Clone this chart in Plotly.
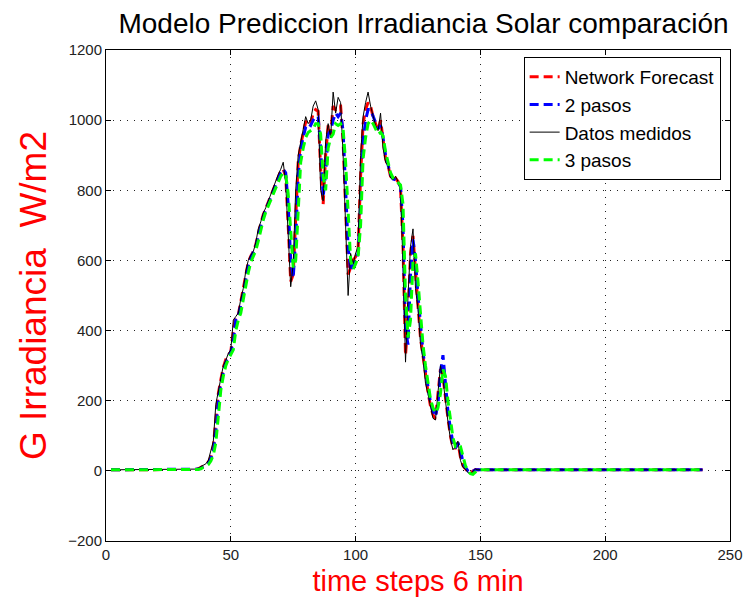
import plotly.graph_objects as go

# time steps
t_start = 2
t_end = 239
steps = list(range(t_start, t_end + 1))

# active part of the day (t = 36 .. 150); flat night values elsewhere
night_before = [3] * 34      # t = 2 .. 35
night_after = [3] * 89       # t = 151 .. 239

measured_day = [5, 8, 12, 15, 20, 30, 55, 85, 190, 230, 270, 300, 315, 335, 345, 430, 440, 450, 490, 520,
                570, 600, 615, 625, 650, 690, 710, 735, 750, 770, 790, 805, 825, 845, 860, 880, 820, 650, 525, 590,
                800, 900, 940, 970, 1010, 990, 1000, 1040, 1055, 1030, 800, 770, 940, 990, 950, 1080, 1020, 1065, 1050, 900,
                720, 500, 620, 590, 620, 640, 900, 1010, 1050, 1080, 1040, 1010, 985, 970, 1020, 920, 880, 870, 835, 830,
                840, 825, 800, 590, 310, 500, 640, 690, 520, 460, 360, 320, 250, 220, 180, 150, 145, 230, 300, 260,
                190, 140, 90, 60, 70, 85, 30, 10, 5, -5, -8, 0, 5, 3, 3]

network_day = [4, 6, 10, 14, 18, 25, 40, 70, 150, 220, 260, 295, 318, 330, 340, 400, 440, 445, 480, 515,
               560, 595, 612, 625, 645, 680, 705, 730, 748, 768, 785, 800, 820, 840, 855, 860, 840, 700, 540, 560,
               740, 880, 930, 960, 995, 1000, 990, 1020, 1030, 1025, 860, 760, 900, 985, 960, 1040, 1030, 1040, 1040, 940,
               760, 560, 580, 600, 610, 630, 840, 990, 1030, 1050, 1040, 1010, 990, 970, 1000, 940, 890, 870, 840, 830,
               835, 825, 805, 640, 330, 430, 620, 670, 560, 470, 380, 325, 265, 225, 185, 160, 148, 210, 290, 270,
               200, 150, 100, 65, 65, 80, 40, 15, 6, -2, -5, 0, 4, 3, 3]

pasos2_day = [4, 5, 8, 12, 16, 22, 35, 55, 110, 200, 250, 285, 310, 325, 338, 370, 430, 442, 470, 505,
              545, 585, 608, 622, 640, 670, 700, 725, 745, 762, 780, 798, 815, 835, 850, 860, 850, 760, 600, 550,
              660, 840, 920, 950, 980, 990, 985, 1000, 1010, 1010, 920, 780, 850, 960, 970, 1000, 1020, 1010, 1020, 970,
              820, 640, 570, 590, 600, 620, 760, 940, 1000, 1030, 1030, 1010, 990, 975, 985, 950, 900, 875, 845, 832,
              830, 825, 810, 700, 400, 360, 560, 660, 600, 500, 410, 340, 285, 235, 195, 170, 155, 190, 280, 330,
              240, 170, 120, 80, 65, 80, 60, 25, 10, 0, -5, -2, 3, 3, 3]

pasos3_day = [3, 4, 6, 10, 14, 18, 28, 45, 80, 160, 230, 270, 300, 318, 330, 345, 400, 430, 450, 490,
              525, 565, 595, 612, 628, 655, 690, 715, 738, 755, 775, 792, 808, 828, 840, 850, 845, 790, 680, 580,
              600, 760, 880, 920, 950, 965, 970, 975, 990, 990, 960, 840, 800, 920, 950, 960, 990, 985, 990, 975,
              880, 720, 600, 575, 590, 610, 700, 890, 950, 990, 1000, 990, 975, 960, 965, 955, 910, 880, 850, 835,
              828, 822, 815, 760, 500, 380, 430, 600, 620, 540, 440, 360, 300, 250, 205, 180, 165, 180, 220, 290,
              270, 200, 140, 95, 70, 75, 70, 40, 15, 0, -8, -10, -2, 3, 3]

measured = night_before + measured_day + night_after
network = night_before + network_day + night_after
pasos2 = night_before + pasos2_day + night_after
pasos3 = night_before + pasos3_day + night_after

x_ticks = [0, 50, 100, 150, 200, 250]
y_ticks = [-200, 0, 200, 400, 600, 800, 1000, 1200]

fig = go.Figure()
fig.add_trace(go.Scatter(x=steps, y=network, mode="lines", name="Network Forecast",
                         legendgroup="a", line=dict(color="#ff0000", width=3, dash="9px,5px")))
fig.add_trace(go.Scatter(x=steps, y=pasos2, mode="lines", name="2 pasos",
                         legendgroup="b", line=dict(color="#0000ff", width=3, dash="9px,5px")))
fig.add_trace(go.Scatter(x=steps, y=measured, mode="lines", name="Datos medidos",
                         legendgroup="c", line=dict(color="#000000", width=1)))
fig.add_trace(go.Scatter(x=steps, y=pasos3, mode="lines", name="3 pasos",
                         legendgroup="d", line=dict(color="#00ff00", width=3, dash="9px,5px")))

axis_common = dict(
    showline=True, linecolor="black", linewidth=1, mirror="ticks",
    ticks="inside", ticklen=5, tickcolor="black",
    showgrid=True, gridcolor="#222222", gridwidth=1, griddash="1px,6px",
    zeroline=False,
    tickfont=dict(family="Liberation Sans", size=15, color="#222222"),
)

fig.update_layout(
    width=755, height=606,
    margin=dict(l=106, r=14, t=50, b=65),
    paper_bgcolor="white", plot_bgcolor="white",
    title=dict(text="Modelo Prediccion Irradiancia Solar comparación",
               x=(106 + 741) / 2 / 755, xanchor="center", y=1 - 23 / 606, yanchor="middle",
               font=dict(family="Liberation Sans", size=28, color="black")),
    xaxis=dict(range=[0, 250], tickvals=x_ticks,
               title=dict(text="time steps 6 min", standoff=8,
                          font=dict(family="Liberation Sans", size=29, color="#ff0000")),
               **axis_common),
    yaxis=dict(range=[-200, 1200], tickvals=y_ticks,
               title=dict(text="G Irradiancia  W/m2", standoff=10,
                          font=dict(family="Liberation Sans", size=37, color="#ff0000")),
               **axis_common),
    legend=dict(x=0.985, xanchor="right", y=0.986, yanchor="top",
                bgcolor="white", bordercolor="black", borderwidth=1,
                font=dict(family="Liberation Sans", size=19, color="black"),
                tracegroupgap=0, traceorder="normal"),
    showlegend=True,
)

fig.write_html("out.html")
